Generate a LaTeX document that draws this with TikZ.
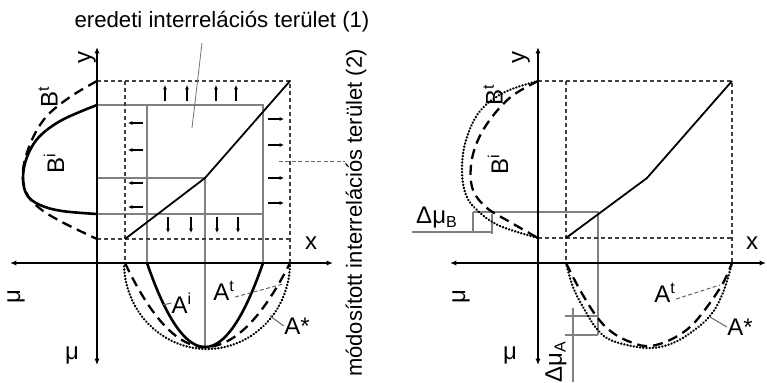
\documentclass[tikz,border=0pt]{standalone}
\usepackage{fontspec}
\setmainfont{Liberation Sans}
\usetikzlibrary{arrows.meta}
\begin{document}
\begin{tikzpicture}[x=0.5pt,y=-0.5pt,
  axln/.style={line width=0.75pt, {Latex[length=3.2pt,width=2.6pt]}-{Latex[length=3.2pt,width=2.6pt]}},
  dfr/.style={line width=0.65pt, black!75, dash pattern=on 2pt off 1.5pt},
  gline/.style={line width=0.6pt, black!50},
  diag/.style={line width=0.9pt},
  cvi/.style={line width=1.3pt},
  cvt/.style={line width=1.15pt, dash pattern=on 5pt off 3pt},
  cvs/.style={line width=1.25pt, dash pattern=on 0.1pt off 1.5pt, line cap=round},
  sarr/.style={line width=0.55pt, -{Latex[length=2.2pt,width=2pt]}},
  lbl/.style={font=\fontsize{12}{12}\selectfont, inner sep=0pt},
  lead/.style={line width=0.5pt, black!60},
  dlead/.style={line width=0.5pt, black!60, dash pattern=on 2pt off 1.2pt}
]
\useasboundingbox (0,0) rectangle (767,382);

% ================= LEFT DIAGRAM =================
\coordinate (Lyb) at (97,365); \coordinate (Lyt) at (97,47);
\coordinate (Lxl) at (10,263); \coordinate (Lxr) at (333,263);
% gray inner lines
\draw[gline] (97,105) -- (263,105) -- (263,263);
\draw[gline] (97,214) -- (263,214);
\draw[gline] (147,105) -- (147,263);
\draw[gline] (97,178) -- (205,178) -- (205,347);
% dashed frame
\draw[dfr] (97,81) -- (290,81) -- (290,263);
\draw[dfr] (97,239) -- (290,239);
\draw[dfr] (125,81) -- (125,263);
% axes
\draw[axln] (Lyb) -- (Lyt);
\draw[axln] (Lxl) -- (Lxr);
% diagonal
\draw[diag] (125,239) -- (205,178) -- (290,81);
% small arrows
\foreach \x in {165,187,216,236} \draw[sarr] (\x,101) -- (\x,85);
\foreach \x in {168,191,217,238} \draw[sarr] (\x,217) -- (\x,233);
\foreach \y in {123,150,183,207} \draw[sarr] (143,\y) -- (128,\y);
\foreach \y in {119,145,178,203} \draw[sarr] (268,\y) -- (284,\y);
% B curves
\draw[cvi] plot[smooth, tension=0.6] coordinates {(97,105) (62,120) (39,137) (27,157) (23,178) (27,195) (40,205) (62,211) (97,214)};
\draw[cvt] plot[smooth, tension=0.6] coordinates {(97,81) (70,97) (46,117) (31,142) (23,170) (26,192) (38,207) (60,221) (97,239)};
% A curves
\draw[cvi] plot[domain=-58:58, samples=50] ({205+\x}, {347-84*(\x/58)^2});
\draw[cvt] plot[domain=-80:85, samples=50] ({205+\x}, {347-84*(\x/(\x<0?80:85))^2});
\draw[cvs] plot[domain=180:360, samples=80] ({207+83*cos(\x)}, {263-86*sin(\x)});

% labels
\node[lbl, rotate=90] (Ly) at (87,57) {y};
\node[lbl] (Lx) at (311,243) {x};
\node[lbl, rotate=90] (Lmu1) at (16,297) {μ};
\node[lbl] (Lmu2) at (72,355) {μ};
\node[lbl, rotate=90] (LBt) at (48,97) {B\textsuperscript{t}};
\node[lbl, rotate=90] (LBi) at (54,163) {B\textsuperscript{i}};
\node[lbl] (LAi) at (182,303) {A\textsuperscript{i}};
\node[lbl] (LAt) at (224,291) {A\textsuperscript{t}};
\node[lbl] (LAs) at (297,326) {A*};
\coordinate (LAiE) at (163,305);
\draw[lead] (LAi.west) -- (LAiE);
\coordinate (LAtE) at (283,284);
\draw[dlead] (LAt.east) ++(0,6) -- (LAtE);
\coordinate (LAsE) at (270,316);
\draw[lead] (LAs.west) -- (LAsE);

% top label
\node[font=\fontsize{11.1}{12}\selectfont, inner sep=0pt] (T1) at (222,22) {eredeti interrelációs terület (1)};
\coordinate (T1a) at (202,43); \coordinate (T1b) at (192,128);
\draw[line width=0.4pt, black!55] (T1a) -- (T1b);
% rotated label
\node[font=\fontsize{11}{12}\selectfont, inner sep=0pt, rotate=90] (T2) at (356,213) {módosított interrelációs terület (2)};
\coordinate (T2a) at (279,161);
\draw[dlead] (T2a) -- (T2.north |- T2a);

% ================= RIGHT DIAGRAM =================
\coordinate (Ryb) at (538,365); \coordinate (Ryt) at (538,47);
\coordinate (Rxl) at (450,263); \coordinate (Rxr) at (766,263);
% gray lines
\draw[gline] (473,212) -- (598,212) -- (598,335);
\draw[gline] (412,232) -- (493,232);
\draw[gline] (473,212) -- (473,232);
\draw[gline] (492,214) -- (492,234);
\draw[gline] (565,316) -- (598,316);
\draw[gline] (565,335) -- (598,335);
\draw[gline] (573,308) -- (573,382);
% dashed frame
\draw[dfr] (538,81) -- (732,81) -- (732,263);
\draw[dfr] (538,238) -- (732,238);
\draw[dfr] (566,81) -- (566,263);
% axes
\draw[axln] (Ryb) -- (Ryt);
\draw[axln] (Rxl) -- (Rxr);
% diagonal
\draw[diag] (566,238) -- (647,178) -- (732,81);
% B curves
\draw[cvt] plot[smooth, tension=0.6] coordinates {(538,81) (512,96) (492,117) (478,140) (471,165) (473,190) (487,208) (510,222) (538,238)};
\draw[cvs] plot[smooth, tension=0.6] coordinates {(538,81) (505,92) (480,111) (466,140) (462,170) (466,195) (478,211) (500,226) (538,238)};
% A curves
\draw[cvt] plot[smooth, tension=0.6] coordinates {(566,263) (580,290) (597,317) (613,333) (633,343) (650,346) (670,340) (690,327) (707,307) (723,283) (732,263)};
\draw[cvs] plot[smooth, tension=0.6] coordinates {(566,263) (573,287) (583,307) (597,329) (613,341) (647,348) (673,343) (697,328) (713,312) (724,290) (732,263)};

% labels
\node[lbl, rotate=90] (Ry) at (521,57) {y};
\node[lbl] (Rx) at (752,243) {x};
\node[lbl, rotate=90] (Rmu1) at (461,297) {μ};
\node[lbl] (Rmu2) at (510,355) {μ};
\node[lbl, rotate=90] (RBt) at (493,95) {B\textsuperscript{t}};
\node[lbl, rotate=90] (RBi) at (498,164) {B\textsuperscript{i}};
\node[lbl] (RAt) at (665,293) {A\textsuperscript{t}};
\node[lbl] (RAs) at (740,327) {A*};
\coordinate (RAtE) at (720,285);
\draw[dlead] (RAt.east) ++(0,6) -- (RAtE);
\coordinate (RAsE) at (710,317);
\draw[lead] (RAs.west) -- (RAsE);
\node[lbl] (DB) at (437,218) {Δμ\textsubscript{B}};
\node[lbl, rotate=90] (DA) at (556,362) {Δμ\textsubscript{A}};
\end{tikzpicture}
\end{document}
